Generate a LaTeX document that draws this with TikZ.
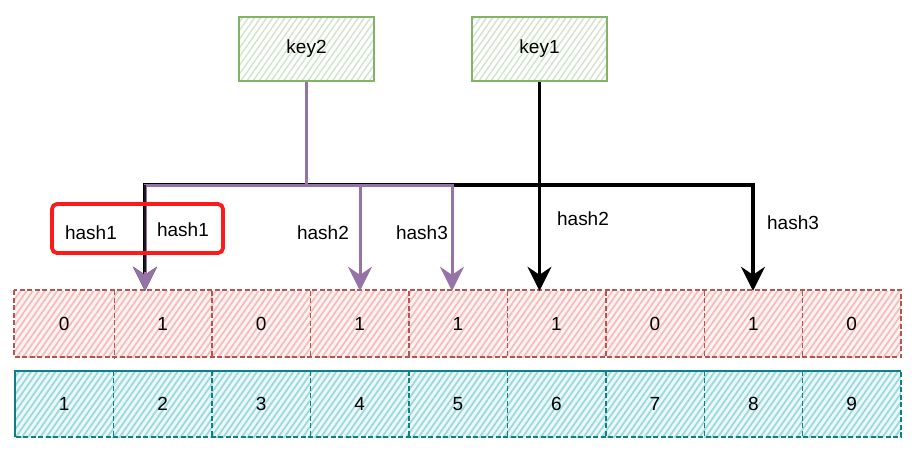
\documentclass[tikz,border=0pt]{standalone}
\usepackage{fontspec}
\setmainfont{Liberation Sans}
\usetikzlibrary{arrows.meta,patterns.meta}
\definecolor{gstroke}{HTML}{82B366}
\definecolor{ghatch}{HTML}{CFE5CC}
\definecolor{rstroke}{HTML}{B85450}
\definecolor{rhatch}{HTML}{F5BDB9}
\definecolor{rbg}{HTML}{FFF4F3}
\definecolor{tstroke}{HTML}{0E8088}
\definecolor{thatch}{HTML}{9DD9DC}
\definecolor{tbg}{HTML}{EAF8F9}
\definecolor{pur}{HTML}{9673A6}
\definecolor{hl}{HTML}{FF1A1A}
\tikzset{
  txt/.style={font=\fontsize{19}{22}\selectfont, inner sep=0pt},
  keybox/.style={txt, draw=gstroke, line width=2pt, minimum width=135pt, minimum height=64pt,
    preaction={fill=white}, pattern={Lines[angle=55,distance=5pt,line width=1.4pt]}, pattern color=ghatch},
  bitcell/.style={txt, minimum width=98.44pt, minimum height=66pt,
    preaction={fill=rbg}, pattern={Lines[angle=55,distance=5pt,line width=1.8pt]}, pattern color=rhatch},
  idxcell/.style={txt, minimum width=98.44pt, minimum height=66pt,
    preaction={fill=tbg}, pattern={Lines[angle=55,distance=5pt,line width=1.8pt]}, pattern color=thatch},
  rdash/.style={draw=rstroke, dash pattern=on 5pt off 2.5pt, line width=1.5pt},
  tdash/.style={draw=tstroke, dash pattern=on 5pt off 2.5pt, line width=1.5pt},
  blk/.style={draw=black, line width=3.4pt, -{Stealth[length=24pt,width=24pt,inset=8pt]}},
  purl/.style={draw=pur, line width=3pt, -{Stealth[length=24pt,width=24pt,inset=8pt]}},
  lbl/.style={txt},
  hlbox/.style={draw=hl, line width=3.8pt, rounded corners=5pt}
}
\begin{document}
\begin{tikzpicture}[x=1pt,y=-1pt]
\useasboundingbox (0,0) rectangle (916,451);
% keys
\node[keybox] (k2) at (306.5,49) {key2};
\node[keybox] (k1) at (539.5,49) {key1};
% bit array
\foreach \v [count=\i from 0] in {0,1,0,1,1,1,0,1,0} {
  \node[bitcell] (r\i) at ({15+98.44*\i+49.22},324) {\v};
}
\foreach \v [count=\i from 0] in {1,2,3,4,5,6,7,8,9} {
  \node[idxcell] (t\i) at ({15+98.44*\i+49.22},404) {\v};
}
\draw[rdash] (r0.north west) rectangle (r8.south east);
\draw[tdash] (t0.north west) rectangle (t8.south east);
\draw[tstroke, line width=1.8pt] (t0.south west) |- (t8.north east);
\foreach \i in {0,...,7} {
  \draw[rdash] (r\i.north east) -- (r\i.south east);
  \draw[tdash] (t\i.north east) -- (t\i.south east);
}
% bend coordinates
\coordinate (b1) at (145,185);
\coordinate (b3) at (360,185);
\coordinate (b4) at (452,185);
\coordinate (b7) at (753,185);
% black (key1)
\draw[blk] (k1.south) -- (k1.south |- r5.north);
\draw[blk] (k1.south) |- (b7) -- (b7 |- r7.north);
\draw[blk] (k1.south) |- (b1) -- (b1 |- r1.north);
% purple (key2)
\draw[purl] (k2.south) |- (b1) -- (b1 |- r1.north);
\draw[purl] (k2.south) |- (b3) -- (b3 |- r3.north);
\draw[purl] (k2.south) |- (b4) -- (b4 |- r4.north);
\coordinate (b1e) at (145,272);
\draw[black!80!pur, line width=2.8pt] (b1) -- (b1e);
% labels
\node[lbl] (h1a) at (91,233) {hash1};
\node[lbl] (h1b) at (183,230) {hash1};
\node[lbl] (h2a) at (323,233) {hash2};
\node[lbl] (h3a) at (422,233) {hash3};
\node[lbl] (h2b) at (583,219) {hash2};
\node[lbl] (h3b) at (793,223) {hash3};
% highlight
\draw[hlbox] (52,204) rectangle (223,253);
\end{tikzpicture}
\end{document}
